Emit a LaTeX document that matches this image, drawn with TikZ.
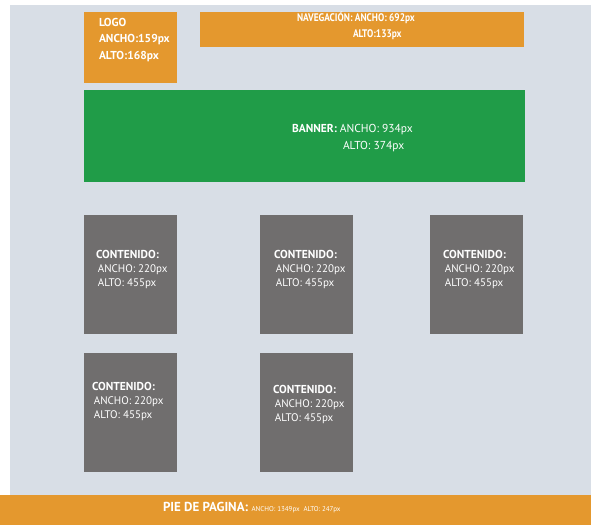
\documentclass[tikz,border=0pt]{standalone}
\usepackage{fontspec}
\setmainfont{PT Sans}
\newfontfamily\condfont[FakeStretch=0.85]{PT Sans}
\usetikzlibrary{positioning}
\definecolor{myorange}{RGB}{228,152,46}
\definecolor{mygreen}{RGB}{32,156,72}
\definecolor{mygray}{RGB}{112,110,110}
\definecolor{mybg}{RGB}{216,222,230}

\begin{document}
\begin{tikzpicture}[x=1pt,y=1pt,
    every node/.style={inner sep=0pt,outer sep=0pt},
    box/.style={anchor=south west,draw=none},
    orangebox/.style={box,fill=myorange},
    greenbox/.style={box,fill=mygreen},
    graybox/.style={box,fill=mygray,minimum width=93pt,minimum height=119pt},
    boxtext/.style={text=white,align=left,anchor=west,font=\fontsize{11}{14}\selectfont}
  ]
  \useasboundingbox (0,0) rectangle (591,525);

  % the page
  \fill[white] (0,0) rectangle (591,525);
  \node[box,fill=mybg,minimum width=581pt,minimum height=490pt] (page) at (10,30) {};

  % the header
  \node[orangebox,minimum width=93pt,minimum height=71pt] (logo) at (84,442) {};
  \node[boxtext,font=\fontsize{11.5}{16.5}\selectfont] (logotext) at (99,485)
    {\textbf{LOGO}\\\textbf{ANCHO:159px}\\\textbf{ALTO:168px}};
  \node[orangebox,minimum width=324pt,minimum height=35pt] (nav) at (200,478) {};
  \node[boxtext,font=\condfont\bfseries\fontsize{11}{12}\selectfont] (navtext1) at (297,507)
    {NAVEGACIÓN: ANCHO: 692px};
  \node[boxtext,font=\condfont\bfseries\fontsize{11}{12}\selectfont] (navtext2) at (353,490)
    {ALTO:133px};

  % the banner
  \node[greenbox,minimum width=441pt,minimum height=92pt] (banner) at (84,343) {};
  \node[boxtext,font=\fontsize{11.5}{14}\selectfont] (bannertext1) at (292,395)
    {\textbf{BANNER:} ANCHO: 934px};
  \node[boxtext,font=\fontsize{11.5}{14}\selectfont] (bannertext2) at (343,378)
    {ALTO: 374px};

  % the contents
  \foreach \i/\x/\y/\dx/\ty in {1/84/191/12/256, 2/260/191/14/256, 3/430/191/13/256,
                                4/84/53/8/124, 5/260/53/13/121}
  {
    \node[graybox] (c\i) at (\x,\y) {};
    \node[boxtext] (ct\i) at (\x+\dx,\ty)
      {{\fontsize{11.5}{14}\selectfont\textbf{CONTENIDO:}}\\ \,ANCHO: 220px\\ \,ALTO: 455px};
  }

  % the footer
  \node[orangebox,minimum width=591pt,minimum height=30pt] (footer) at (0,0) {};
  \node[boxtext,font=\fontsize{13}{14}\selectfont] (foottext) at (163,17)
    {\textbf{PIE DE PAGINA:} {\fontsize{7}{9}\selectfont ANCHO: 1349px\ \ ALTO: 247px}};
\end{tikzpicture}
\end{document}
